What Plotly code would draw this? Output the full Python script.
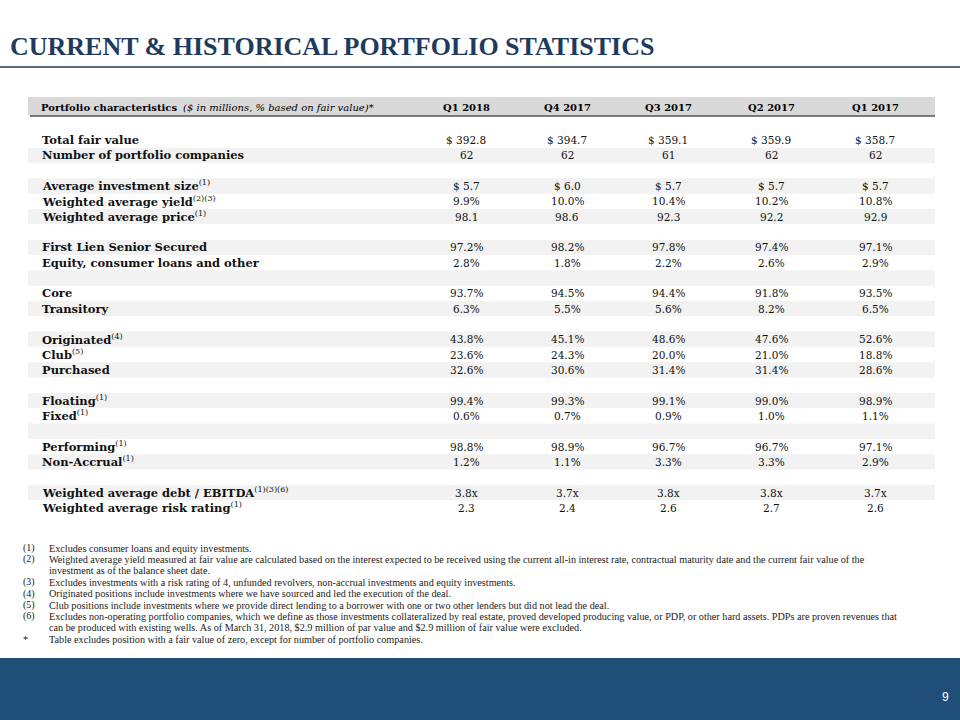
import plotly.graph_objects as go

title_text = "CURRENT & HISTORICAL PORTFOLIO STATISTICS"
header_bold = "Portfolio characteristics"
header_italic = "($ in millions, % based on fair value)*"

quarters = ["Q1 2018", "Q4 2017", "Q3 2017", "Q2 2017", "Q1 2017"]

row_labels = ["Total fair value", "Number of portfolio companies", "",
              "Average investment size", "Weighted average yield", "Weighted average price", "",
              "First Lien Senior Secured", "Equity, consumer loans and other", "",
              "Core", "Transitory", "",
              "Originated", "Club", "Purchased", "",
              "Floating", "Fixed", "",
              "Performing", "Non-Accrual", "",
              "Weighted average debt / EBITDA", "Weighted average risk rating"]
row_notes = ["", "", "",
             "(1)", "(2)(3)", "(1)", "",
             "", "", "",
             "", "", "",
             "(4)", "(5)", "", "",
             "(1)", "(1)", "",
             "(1)", "(1)", "",
             "(1)(3)(6)", "(1)"]

q1_2018 = ["$ 392.8", "62", "", "$ 5.7", "9.9%", "98.1", "", "97.2%", "2.8%", "",
           "93.7%", "6.3%", "", "43.8%", "23.6%", "32.6%", "", "99.4%", "0.6%", "",
           "98.8%", "1.2%", "", "3.8x", "2.3"]
q4_2017 = ["$ 394.7", "62", "", "$ 6.0", "10.0%", "98.6", "", "98.2%", "1.8%", "",
           "94.5%", "5.5%", "", "45.1%", "24.3%", "30.6%", "", "99.3%", "0.7%", "",
           "98.9%", "1.1%", "", "3.7x", "2.4"]
q3_2017 = ["$ 359.1", "61", "", "$ 5.7", "10.4%", "92.3", "", "97.8%", "2.2%", "",
           "94.4%", "5.6%", "", "48.6%", "20.0%", "31.4%", "", "99.1%", "0.9%", "",
           "96.7%", "3.3%", "", "3.8x", "2.6"]
q2_2017 = ["$ 359.9", "62", "", "$ 5.7", "10.2%", "92.2", "", "97.4%", "2.6%", "",
           "91.8%", "8.2%", "", "47.6%", "21.0%", "31.4%", "", "99.0%", "1.0%", "",
           "96.7%", "3.3%", "", "3.8x", "2.7"]
q1_2017 = ["$ 358.7", "62", "", "$ 5.7", "10.8%", "92.9", "", "97.1%", "2.9%", "",
           "93.5%", "6.5%", "", "52.6%", "18.8%", "28.6%", "", "98.9%", "1.1%", "",
           "97.1%", "2.9%", "", "3.7x", "2.6"]
columns = [q1_2018, q4_2017, q3_2017, q2_2017, q1_2017]

footnote_marks = ["(1)", "(2)", "", "(3)", "(4)", "(5)", "(6)", "", "*"]
footnote_texts = [
    "Excludes consumer loans and equity investments.",
    "Weighted average yield measured at fair value are calculated based on the interest expected to be received using the current all-in interest rate, contractual maturity date and the current fair value of the",
    "investment as of the balance sheet date.",
    "Excludes investments with a risk rating of 4, unfunded revolvers, non-accrual investments and equity investments.",
    "Originated positions include investments where we have sourced and led the execution of the deal.",
    "Club positions include investments where we provide direct lending to a borrower with one or two other lenders but did not lead the deal.",
    "Excludes non-operating portfolio companies, which we define as those investments collateralized by real estate, proved developed producing value, or PDP, or other hard assets. PDPs are proven revenues that",
    "can be produced with existing wells. As of March 31, 2018, $2.9 million of par value and $2.9 million of fair value were excluded.",
    "Table excludes position with a fair value of zero, except for number of portfolio companies.",
]
page_number = "9"

# layout constants
NAVY = "#1F3A5F"
FOOT_BLUE = "#1F4E79"
SERIF = "DejaVu Serif"
W, H = 960, 720
tbl_x0, tbl_x1 = 28, 935
label_x = 40
col_x = [466, 567, 668, 771, 875]
header_y = 107
row_y0 = 140
row_h = 15.33
fn_y0 = 548
fn_h = 11.4

fig = go.Figure()
shapes = []
ann = []

# title
ann.append(dict(x=8, y=46, text=title_text, xanchor="left", yanchor="middle",
                showarrow=False, font=dict(family="Liberation Serif", size=26, color=NAVY, weight="bold")))
shapes.append(dict(type="line", x0=0, x1=W, y0=67, y1=67, line=dict(color=NAVY, width=1.5)))

# header band
shapes.append(dict(type="rect", x0=tbl_x0, x1=tbl_x1, y0=97, y1=115.5, fillcolor="#D9D9D9",
                   line=dict(width=0), layer="below"))
shapes.append(dict(type="line", x0=tbl_x0 + 2, x1=tbl_x1, y0=116, y1=116, line=dict(color="#000000", width=1)))
ann.append(dict(x=label_x - 1, y=header_y, text=header_bold, xanchor="left", yanchor="middle",
                showarrow=False, font=dict(family=SERIF, size=10, color="#000000", weight="bold")))
ann.append(dict(x=181, y=header_y, text=header_italic, xanchor="left", yanchor="middle",
                showarrow=False, font=dict(family=SERIF, size=10, color="#000000", style="italic")))
for cx, q in zip(col_x, quarters):
    ann.append(dict(x=cx, y=header_y, text=q, xanchor="center", yanchor="middle",
                    showarrow=False, font=dict(family=SERIF, size=10, color="#000000", weight="bold")))

# rows
for i, (lab, note) in enumerate(zip(row_labels, row_notes)):
    y = row_y0 + i * row_h
    if i % 2 == 1:
        shapes.append(dict(type="rect", x0=tbl_x0, x1=tbl_x1, y0=y - row_h / 2, y1=y + row_h / 2,
                           fillcolor="#F2F2F2", line=dict(width=0), layer="below"))
    if lab:
        txt = lab
        if note:
            txt += "<sup><span style='font-weight:normal'>" + note + "</span></sup>"
        ann.append(dict(x=label_x, y=y, text=txt, xanchor="left", yanchor="middle", showarrow=False,
                        font=dict(family=SERIF, size=11.5, color="#111111", weight="bold")))
    for cx, col in zip(col_x, columns):
        if col[i]:
            ann.append(dict(x=cx, y=y, text=col[i], xanchor="center", yanchor="middle", showarrow=False,
                            font=dict(family=SERIF, size=10.5, color="#111111")))

# footnotes
for j, (m, t) in enumerate(zip(footnote_marks, footnote_texts)):
    y = fn_y0 + j * fn_h
    if m:
        ann.append(dict(x=21, y=y, text=m, xanchor="left", yanchor="middle", showarrow=False,
                        font=dict(family="Liberation Serif", size=10, color="#222222")))
    ann.append(dict(x=47, y=y, text=t, xanchor="left", yanchor="middle", showarrow=False,
                    font=dict(family="Liberation Serif", size=10.2, color="#222222")))

# footer band
shapes.append(dict(type="rect", x0=0, x1=W, y0=658, y1=H, fillcolor=FOOT_BLUE, line=dict(width=0)))
ann.append(dict(x=945, y=697, text=page_number, xanchor="center", yanchor="middle", showarrow=False,
                font=dict(family="Liberation Sans", size=12, color="#FFFFFF")))

fig.update_layout(
    width=W, height=H, margin=dict(l=0, r=0, t=0, b=0),
    paper_bgcolor="#FFFFFF", plot_bgcolor="#FFFFFF",
    xaxis=dict(range=[0, W], visible=False, fixedrange=True),
    yaxis=dict(range=[H, 0], visible=False, fixedrange=True),
    shapes=shapes, annotations=ann, showlegend=False,
)
fig.write_html("out.html", config={"displayModeBar": False, "staticPlot": True})

# remove the default browser body margin so the slide sits at the page origin
with open("out.html", "r", encoding="utf-8") as f:
    html = f.read()
html = html.replace("<head>", "<head><style>html,body{margin:0;padding:0;overflow:hidden;}</style>", 1)
with open("out.html", "w", encoding="utf-8") as f:
    f.write(html)
